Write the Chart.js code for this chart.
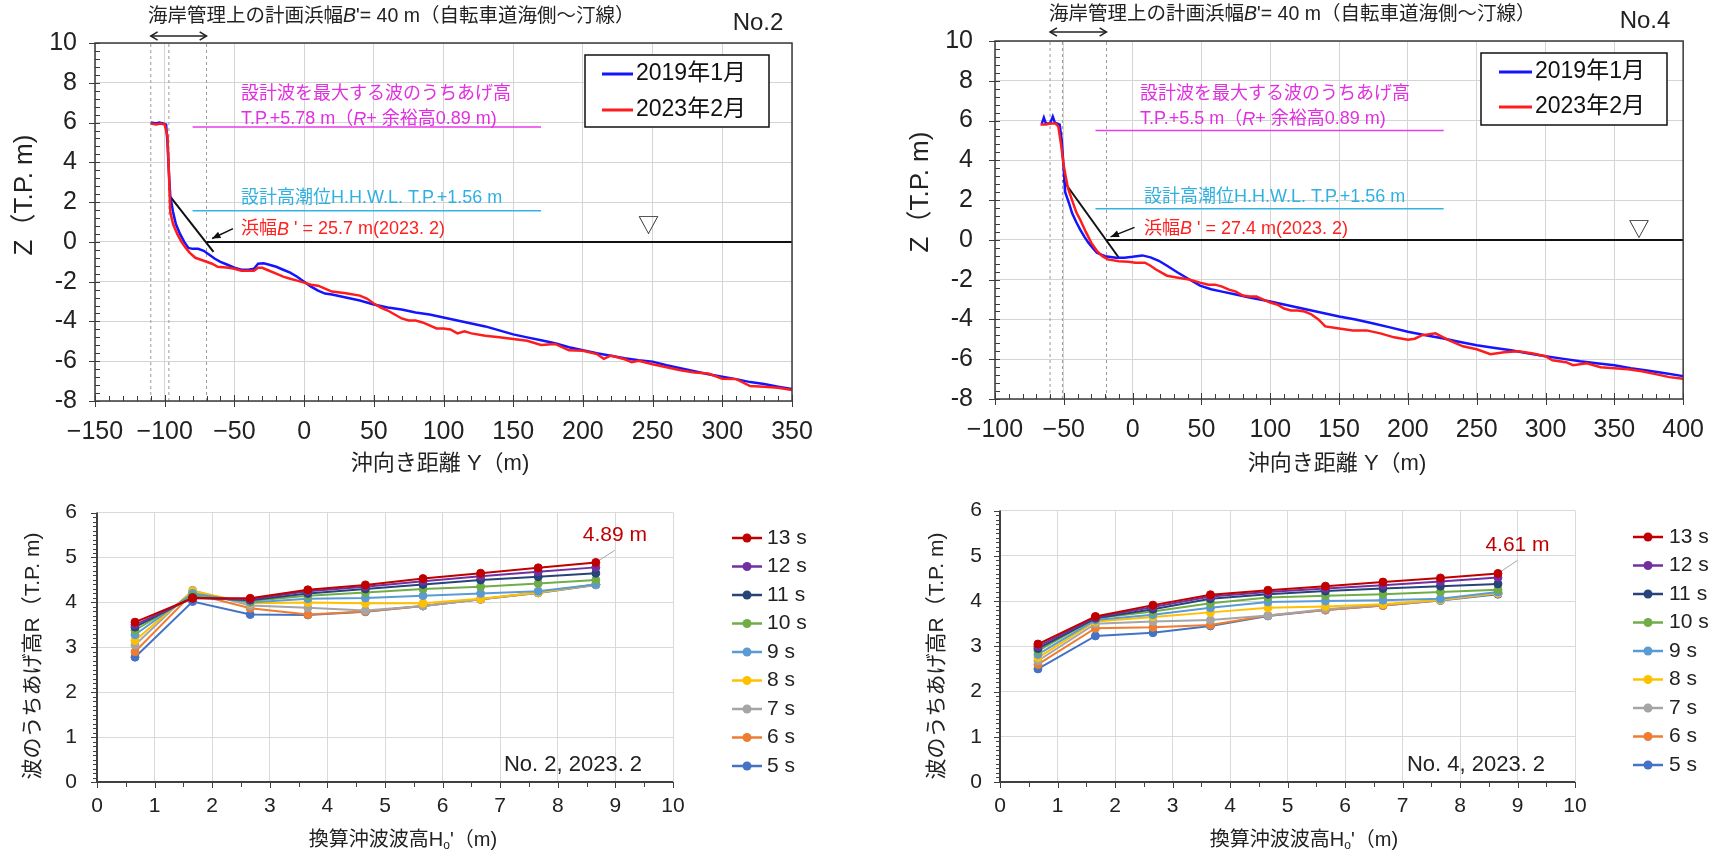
<!DOCTYPE html>
<html lang="ja">
<head>
<meta charset="UTF-8">
<title>No.2 / No.4 断面と波のうちあげ高</title>
<style>
    body {
        margin: 0;
        background: #fff;
        width: 1720px;
        height: 853px;
        position: relative;
        overflow: hidden;
    }
    canvas {
        position: absolute;
    }
</style>
<script src="https://cdn.jsdelivr.net/npm/chart.js"></script>
</head>
<body>
<canvas id="prof2" width="860" height="480" style="left:0;top:0"></canvas>
<canvas id="prof4" width="860" height="480" style="left:860px;top:0"></canvas>
<canvas id="run2" width="860" height="373" style="left:0;top:480px"></canvas>
<canvas id="run4" width="860" height="373" style="left:860px;top:480px"></canvas>
<script>
// ---- profile data: [offshore distance Y (m), elevation Z (T.P. m)] ----
const no2Prof2019 = [[-110,6.0],[-106,5.95],[-104,6.0],[-101,5.95],[-99,5.9],[-98,5.0],[-97,3.5],[-96,2.3],[-94,1.5],[-92,0.9],
    [-89,0.4],[-86,0.0],[-83,-0.3],[-80,-0.35],[-76,-0.35],[-72,-0.45],[-68,-0.65],[-64,-0.85],[-60,-1.0],[-55,-1.15],
    [-50,-1.3],[-45,-1.4],[-40,-1.4],[-36,-1.35],[-33,-1.1],[-29,-1.08],[-25,-1.15],[-20,-1.25],[-15,-1.4],[-10,-1.55],
    [-5,-1.75],[0,-2.0],[5,-2.25],[10,-2.45],[15,-2.6],[20,-2.65],[30,-2.8],[40,-2.95],[50,-3.15],[60,-3.3],
    [70,-3.4],[80,-3.55],[90,-3.65],[100,-3.8],[110,-3.95],[120,-4.1],[130,-4.25],[140,-4.45],[150,-4.65],[160,-4.8],
    [170,-4.95],[180,-5.1],[190,-5.3],[200,-5.45],[210,-5.6],[220,-5.72],[230,-5.85],[240,-5.95],[250,-6.02],[260,-6.2],
    [270,-6.35],[280,-6.5],[290,-6.65],[300,-6.78],[310,-6.9],[320,-7.05],[330,-7.15],[340,-7.28],[350,-7.4]];
const no2Prof2023 = [[-110,5.95],[-106,5.9],[-103,5.95],[-100,5.9],[-98,5.3],[-97,3.5],[-96,1.5],[-94,0.9],[-91,0.4],[-88,0.0],
    [-85,-0.3],[-82,-0.55],[-78,-0.8],[-74,-0.9],[-70,-1.0],[-66,-1.1],[-62,-1.25],[-58,-1.27],[-54,-1.3],[-50,-1.35],
    [-45,-1.45],[-40,-1.45],[-36,-1.45],[-33,-1.3],[-30,-1.3],[-25,-1.45],[-20,-1.6],[-15,-1.75],[-10,-1.85],[-5,-1.95],
    [0,-2.05],[5,-2.15],[10,-2.2],[15,-2.35],[20,-2.5],[30,-2.58],[40,-2.7],[45,-2.85],[50,-3.1],[55,-3.3],
    [60,-3.45],[65,-3.65],[70,-3.85],[75,-3.95],[80,-3.95],[85,-4.05],[90,-4.2],[95,-4.35],[100,-4.35],[105,-4.4],
    [110,-4.6],[115,-4.5],[120,-4.6],[130,-4.72],[140,-4.8],[150,-4.88],[160,-4.97],[170,-5.18],[180,-5.13],[190,-5.45],
    [200,-5.47],[210,-5.64],[215,-5.88],[220,-5.72],[230,-5.9],[235,-6.05],[240,-5.98],[250,-6.15],[260,-6.3],[270,-6.45],
    [280,-6.57],[290,-6.62],[300,-6.88],[310,-6.9],[320,-7.25],[330,-7.28],[340,-7.33],[350,-7.45]];
const no4Prof2019 = [[-66,5.85],[-64.5,6.15],[-63,5.85],[-60,5.85],[-58,6.2],[-56.5,5.9],[-53,5.8],[-51.5,5.0],[-50.5,4.0],[-49,2.4],
    [-46,1.8],[-44,1.35],[-41,0.9],[-38,0.5],[-35,0.15],[-32,-0.15],[-29,-0.4],[-26,-0.65],[-20,-0.82],[-12,-0.9],
    [-6,-0.9],[0,-0.85],[7,-0.78],[13,-0.88],[19,-1.05],[25,-1.3],[33,-1.65],[41,-1.98],[49,-2.3],[57,-2.48],
    [65,-2.6],[75,-2.75],[85,-2.9],[100,-3.1],[110,-3.25],[120,-3.4],[130,-3.55],[140,-3.7],[150,-3.85],[162,-4.0],
    [175,-4.2],[187,-4.4],[200,-4.62],[212,-4.78],[225,-4.95],[237,-5.12],[250,-5.3],[262,-5.42],[275,-5.55],[287,-5.7],
    [300,-5.85],[312,-5.97],[325,-6.1],[337,-6.2],[350,-6.3],[362,-6.45],[375,-6.58],[387,-6.7],[400,-6.85]];
const no4Prof2023 = [[-67,5.8],[-63,5.8],[-60,5.85],[-56,5.85],[-54,5.7],[-52,4.8],[-50,3.7],[-47,2.6],[-44,2.0],[-41,1.4],
    [-38,1.0],[-34,0.4],[-30,-0.15],[-26,-0.55],[-22,-0.82],[-18,-0.98],[-10,-1.07],[-3,-1.1],[2,-1.15],[9,-1.15],
    [13,-1.3],[17,-1.49],[21,-1.65],[25,-1.8],[33,-1.9],[41,-1.99],[49,-2.15],[55,-2.25],[60,-2.25],[65,-2.35],
    [70,-2.5],[75,-2.6],[80,-2.8],[85,-2.85],[90,-2.85],[95,-3.0],[100,-3.15],[105,-3.25],[110,-3.45],[115,-3.55],
    [120,-3.55],[125,-3.6],[130,-3.75],[135,-4.0],[140,-4.35],[150,-4.45],[160,-4.55],[170,-4.55],[180,-4.7],[190,-4.9],
    [200,-5.02],[205,-4.97],[210,-4.8],[220,-4.7],[230,-5.05],[240,-5.35],[250,-5.5],[260,-5.75],[270,-5.65],[280,-5.6],
    [290,-5.7],[300,-5.85],[305,-6.05],[315,-6.15],[320,-6.3],[330,-6.2],[340,-6.4],[350,-6.45],[360,-6.5],[370,-6.6],
    [380,-6.75],[390,-6.9],[400,-6.98]];

// design levels (run-up + margin, H.H.W.L.) and the span they are drawn over
const no2Levels = [5.78, 1.56];
const no4Levels = [5.5, 1.56];
const no2LevelSpan = [-80, 170];
const no4LevelSpan = [-27, 226];
// dashed guide positions and beach-width guide line
const no2Dashed = [-110, -97, -70];
const no4Dashed = [-60, -51, -19];
const no2Slope = [[-96.3, 2.3], [-65, -0.5]];
const no4Slope = [[-50.5, 3.0], [-10, -0.9]];
const no2ZeroFrom = -70;
const no4ZeroFrom = -19;

// ---- run-up data ----
const periods = ['13 s', '12 s', '11 s', '10 s', '9 s', '8 s', '7 s', '6 s', '5 s'];
const offshoreH = [0.66, 1.66, 2.66, 3.66, 4.66, 5.66, 6.66, 7.66, 8.66];
const runupNo2 = [
    [3.56, 4.09, 4.09, 4.28, 4.39, 4.53, 4.65, 4.77, 4.89],
    [3.50, 4.10, 4.07, 4.25, 4.35, 4.47, 4.58, 4.68, 4.78],
    [3.45, 4.11, 4.05, 4.20, 4.30, 4.40, 4.50, 4.57, 4.65],
    [3.38, 4.15, 4.03, 4.15, 4.22, 4.30, 4.35, 4.42, 4.50],
    [3.28, 4.20, 4.00, 4.08, 4.10, 4.15, 4.20, 4.25, 4.40],
    [3.15, 4.25, 3.98, 4.00, 3.98, 3.98, 4.08, 4.22, 4.40],
    [3.05, 4.27, 3.93, 3.88, 3.82, 3.92, 4.07, 4.22, 4.40],
    [2.90, 4.20, 3.87, 3.73, 3.80, 3.92, 4.07, 4.22, 4.40],
    [2.78, 4.02, 3.73, 3.72, 3.79, 3.92, 4.07, 4.21, 4.39]
];
const runupNo4 = [
    [3.05, 3.66, 3.91, 4.14, 4.24, 4.33, 4.42, 4.51, 4.61],
    [3.00, 3.64, 3.87, 4.10, 4.20, 4.28, 4.35, 4.43, 4.52],
    [2.95, 3.62, 3.82, 4.05, 4.15, 4.22, 4.28, 4.33, 4.38],
    [2.90, 3.62, 3.77, 3.95, 4.08, 4.12, 4.15, 4.20, 4.25],
    [2.82, 3.58, 3.70, 3.85, 3.98, 4.00, 4.02, 4.05, 4.20],
    [2.75, 3.55, 3.65, 3.75, 3.85, 3.88, 3.93, 4.03, 4.18],
    [2.68, 3.50, 3.55, 3.58, 3.68, 3.82, 3.92, 4.02, 4.17],
    [2.60, 3.40, 3.42, 3.47, 3.68, 3.80, 3.90, 4.02, 4.17],
    [2.50, 3.23, 3.30, 3.45, 3.67, 3.80, 3.90, 4.01, 4.15]
];
// where the leader of the max label ends (H, R)
const no2Leader = [8.99, 5.16];
const no4Leader = [9.0, 4.9];

const periodColors = ['#c00000', '#7030a0', '#264478', '#70ad47', '#5b9bd5', '#ffc000', '#a5a5a5', '#ed7d31', '#4472c4'];
const FONT = "'Liberation Sans', 'Noto Sans CJK JP', sans-serif";

// draw text made of parts: [text, style] where style 'i' = italic, 's' = subscript
function drawParts(ctx, x, y, parts, size, color, align) {
    ctx.save();
    ctx.fillStyle = color;
    ctx.textBaseline = 'middle';
    ctx.textAlign = 'left';
    const fontOf = st => (st === 'i' ? 'italic ' : '') + (st === 's' ? Math.round(size * 0.6) : size) + 'px ' + FONT;
    let w = 0;
    parts.forEach(p => { ctx.font = fontOf(p[1]); w += ctx.measureText(p[0]).width; });
    let cx = align === 'center' ? x - w / 2 : (align === 'right' ? x - w : x);
    parts.forEach(p => {
        ctx.font = fontOf(p[1]);
        ctx.fillText(p[0], cx, p[1] === 's' ? y + size * 0.3 : y);
        cx += ctx.measureText(p[0]).width;
    });
    ctx.restore();
}

function drawRotated(ctx, x, y, parts, size, color) {
    ctx.save();
    ctx.translate(x, y);
    ctx.rotate(-Math.PI / 2);
    drawParts(ctx, 0, 0, parts, size, color, 'center');
    ctx.restore();
}

function chevron(ctx, x, y, ang, len) {
    ctx.beginPath();
    ctx.moveTo(x + len * Math.cos(ang + 2.6), y + len * Math.sin(ang + 2.6));
    ctx.lineTo(x, y);
    ctx.lineTo(x + len * Math.cos(ang - 2.6), y + len * Math.sin(ang - 2.6));
    ctx.stroke();
}

// minor / major tick marks along left and bottom axes
function drawTicks(ctx, chart, t) {
    const { chartArea: a, scales: { x, y } } = chart;
    ctx.strokeStyle = t.color;
    ctx.lineWidth = 1;
    const ny = Math.round((y.max - y.min) / t.yMinor);
    for (let i = 0; i <= ny; i++) {
        const v = y.min + i * t.yMinor;
        const major = Math.abs(v / t.yMajor - Math.round(v / t.yMajor)) < 1e-6;
        const len = major ? t.yMaj : t.yMin;
        const py = Math.round(y.getPixelForValue(v)) + 0.5;
        ctx.beginPath(); ctx.moveTo(a.left - len[0], py); ctx.lineTo(a.left + len[1], py); ctx.stroke();
    }
    const nx = Math.round((x.max - x.min) / t.xMinor);
    for (let i = 0; i <= nx; i++) {
        const v = x.min + i * t.xMinor;
        const major = Math.abs(v / t.xMajor - Math.round(v / t.xMajor)) < 1e-6;
        const len = major ? t.xMaj : t.xMin;
        const px = Math.round(x.getPixelForValue(v)) + 0.5;
        ctx.beginPath(); ctx.moveTo(px, a.bottom + len[0]); ctx.lineTo(px, a.bottom - len[1]); ctx.stroke();
    }
}

const profileDeco = {
    id: 'profileDeco',
    afterDraw(chart, args, o) {
        const { ctx, chartArea: a, scales: { x, y } } = chart;
        ctx.save();
        ctx.strokeStyle = '#3a3a3a';
        ctx.lineWidth = 1.5;
        ctx.strokeRect(a.left, a.top, a.right - a.left, a.bottom - a.top);
        drawTicks(ctx, chart, { color: '#3a3a3a', yMinor: 0.4, yMajor: 2, yMaj: [6, 5], yMin: [0, 5],
            xMinor: 10, xMajor: 50, xMaj: [6, 6], xMin: [0, 5] });

        // header with double arrow over the planned beach width
        drawParts(ctx, o.header[0], o.header[1], [['海岸管理上の計画浜幅'], ['B', 'i'], ["'= 40 m（自転車道海側～汀線）"]], 19.5, '#222', 'left');
        drawParts(ctx, o.station[0], o.station[1], [[o.station[2]]], 24, '#222', 'center');
        const x1 = x.getPixelForValue(o.span[0]), x2 = x.getPixelForValue(o.span[1]);
        ctx.strokeStyle = '#222';
        ctx.lineWidth = 1.5;
        ctx.beginPath(); ctx.moveTo(x1, o.arrowY); ctx.lineTo(x2, o.arrowY); ctx.stroke();
        chevron(ctx, x1, o.arrowY, Math.PI, 8);
        chevron(ctx, x2, o.arrowY, 0, 8);

        // level notes
        const n = o.notes;
        drawParts(ctx, n.x1, n.y[0], [['設計波を最大する波のうちあげ高']], 18, '#e030e0', 'left');
        drawParts(ctx, n.x1, n.y[1], [['T.P.+' + o.levels[0] + ' m（'], ['R', 'i'], ['+ 余裕高0.89 m)']], 18, '#e030e0', 'left');
        drawParts(ctx, n.x2, n.y[2], [['設計高潮位H.H.W.L. T.P.+' + o.levels[1].toFixed(2) + ' m']], 18, '#2fb0e0', 'left');
        drawParts(ctx, n.x2, n.y[3], [['浜幅'], ['B', 'i'], [" ' = " + o.width + ' m(2023. 2)']], 18, '#ff2020', 'left');

        // pointer to the shoreline
        const tx = x.getPixelForValue(o.pointer[0]), ty = y.getPixelForValue(o.pointer[1]);
        const hx = x.getPixelForValue(o.pointer[2]), hy = y.getPixelForValue(o.pointer[3]);
        const ang = Math.atan2(hy - ty, hx - tx);
        ctx.strokeStyle = '#111';
        ctx.fillStyle = '#111';
        ctx.lineWidth = 1.5;
        ctx.beginPath(); ctx.moveTo(tx, ty); ctx.lineTo(hx, hy); ctx.stroke();
        ctx.beginPath();
        ctx.moveTo(hx, hy);
        ctx.lineTo(hx - 9 * Math.cos(ang - 0.4), hy - 9 * Math.sin(ang - 0.4));
        ctx.lineTo(hx - 9 * Math.cos(ang + 0.4), hy - 9 * Math.sin(ang + 0.4));
        ctx.closePath();
        ctx.fill();

        // water level mark
        drawParts(ctx, x.getPixelForValue(o.tri[0]), y.getPixelForValue(o.tri[1]), [['▽']], 21, '#222', 'center');

        // legend box
        const L = o.legend;
        ctx.fillStyle = '#fff';
        ctx.fillRect(L.box[0], L.box[1], L.box[2] - L.box[0], L.box[3] - L.box[1]);
        ctx.strokeStyle = '#111';
        ctx.lineWidth = 1.5;
        ctx.strokeRect(L.box[0], L.box[1], L.box[2] - L.box[0], L.box[3] - L.box[1]);
        [0, 1].forEach((di, k) => {
            const ds = chart.data.datasets[di];
            ctx.strokeStyle = ds.borderColor;
            ctx.lineWidth = 3;
            ctx.beginPath(); ctx.moveTo(L.line[0], L.rows[k]); ctx.lineTo(L.line[1], L.rows[k]); ctx.stroke();
            drawParts(ctx, L.textX, L.rows[k], [[ds.label]], 23, '#111', 'left');
        });

        // axis titles
        drawParts(ctx, o.xTitle[0], o.xTitle[1], [['沖向き距離 Y（m)']], 22, '#222', 'center');
        drawRotated(ctx, o.yTitle[0], o.yTitle[1], [['Z（T.P. m)']], 26, '#222');
        ctx.restore();
    }
};

const runupDeco = {
    id: 'runupDeco',
    afterDraw(chart, args, o) {
        const { ctx, chartArea: a, scales: { x, y } } = chart;
        ctx.save();
        ctx.strokeStyle = '#404040';
        ctx.lineWidth = 2;
        ctx.beginPath();
        ctx.moveTo(a.left, a.top); ctx.lineTo(a.left, a.bottom); ctx.lineTo(a.right, a.bottom);
        ctx.stroke();
        drawTicks(ctx, chart, { color: '#404040', yMinor: 0.1, yMajor: 1, yMaj: [6, 0], yMin: [4, 0],
            xMinor: 0.5, xMajor: 1, xMaj: [6, 0], xMin: [5, 0] });

        // max run-up label at the end of the leader line
        const top = chart.data.datasets[0].data;
        const maxR = Math.max(...top.map(p => p.y));
        drawParts(ctx, x.getPixelForValue(o.leader[0]), y.getPixelForValue(o.leader[1]) - 15,
            [[maxR.toFixed(2) + ' m']], 21, '#c00000', 'center');

        drawParts(ctx, o.tag[0], o.tag[1], [[o.tag[2]]], 22, '#222', 'center');

        // legend to the right
        const L = o.legend;
        periods.forEach((p, i) => {
            const ds = chart.data.datasets[i];
            const ry = L.y0 + i * L.dy;
            ctx.strokeStyle = ds.borderColor;
            ctx.lineWidth = 2.5;
            ctx.beginPath(); ctx.moveTo(L.x[0], ry); ctx.lineTo(L.x[1], ry); ctx.stroke();
            ctx.fillStyle = ds.borderColor;
            ctx.beginPath(); ctx.arc((L.x[0] + L.x[1]) / 2, ry, 4.5, 0, Math.PI * 2); ctx.fill();
            drawParts(ctx, L.textX, ry, [[ds.label]], 21, '#222', 'left');
        });

        drawParts(ctx, o.xTitle[0], o.xTitle[1], [['換算沖波波高H'], ['o', 's'], ["'（m)"]], 20, '#222', 'center');
        drawRotated(ctx, o.yTitle[0], o.yTitle[1], [['波のうちあげ高R（T.P. m)']], 21, '#222');
        ctx.restore();
    }
};

const toXY = pts => pts.map(p => ({ x: p[0], y: p[1] }));

function profileChart(id, c) {
    const datasets = [
        { label: '2019年1月', data: toXY(c.p2019), borderColor: '#1414ff', borderWidth: 2.5, order: 1 },
        { label: '2023年2月', data: toXY(c.p2023), borderColor: '#ff1c1c', borderWidth: 2.5, order: 0 },
        { data: c.span.map(v => ({ x: v, y: c.levels[0] })), borderColor: '#e83ce8', borderWidth: 1.5, order: 3 },
        { data: c.span.map(v => ({ x: v, y: c.levels[1] })), borderColor: '#35b4e4', borderWidth: 1.5, order: 3 },
        { data: toXY(c.slope), borderColor: '#111', borderWidth: 2, order: 2 },
        { data: [{ x: c.zeroFrom, y: 0 }, { x: c.xMax, y: 0 }], borderColor: '#111', borderWidth: 2, order: 2 }
    ];
    c.dashed.forEach(v => datasets.push({
        data: [{ x: v, y: -8 }, { x: v, y: 10 }], borderColor: '#9a9a9a', borderWidth: 1, borderDash: [3, 3], order: 4
    }));
    new Chart(document.getElementById(id), {
        type: 'line',
        data: { datasets },
        options: {
            responsive: false,
            animation: false,
            events: [],
            elements: { point: { radius: 0 }, line: { tension: 0, fill: false } },
            layout: { padding: { top: c.area.top, right: c.area.right, left: 0, bottom: 0 } },
            plugins: { legend: { display: false }, tooltip: { enabled: false }, profileDeco: c.deco },
            scales: {
                x: {
                    type: 'linear', min: c.xMin, max: c.xMax,
                    afterFit: s => { s.height = c.area.xh; },
                    grid: { color: '#d4d4d4', drawTicks: false },
                    border: { display: false },
                    ticks: {
                        stepSize: 50, padding: 16, autoSkip: false, maxRotation: 0, color: '#222',
                        font: { size: 25, family: FONT },
                        callback: v => v < 0 ? '\u2212' + (-v) : String(v)
                    }
                },
                y: {
                    min: -8, max: 10,
                    afterFit: s => { s.width = c.area.yw; },
                    grid: { color: '#d4d4d4', drawTicks: false },
                    border: { display: false },
                    ticks: { stepSize: 2, padding: c.area.ypad, color: '#222', font: { size: 25, family: FONT } }
                }
            }
        },
        plugins: [profileDeco]
    });
}

function runupChart(id, c) {
    const datasets = c.rows.map((vals, i) => ({
        label: periods[i],
        data: offshoreH.map((h, j) => ({ x: h, y: vals[j] })),
        borderColor: periodColors[i],
        backgroundColor: periodColors[i],
        borderWidth: 2,
        pointRadius: 4,
        pointBorderWidth: 1
    }));
    datasets.push({
        data: [{ x: offshoreH[offshoreH.length - 1], y: c.rows[0][c.rows[0].length - 1] }, { x: c.leader[0], y: c.leader[1] }],
        borderColor: '#a6a6a6', borderWidth: 1, pointRadius: 0
    });
    new Chart(document.getElementById(id), {
        type: 'line',
        data: { datasets },
        options: {
            responsive: false,
            animation: false,
            events: [],
            elements: { line: { tension: 0, fill: false } },
            layout: { padding: { top: c.area.top, right: c.area.right, left: 0, bottom: 0 } },
            plugins: { legend: { display: false }, tooltip: { enabled: false }, runupDeco: c.deco },
            scales: {
                x: {
                    type: 'linear', min: 0, max: 10,
                    afterFit: s => { s.height = c.area.xh; },
                    grid: { color: '#d9d9d9', drawTicks: false },
                    border: { display: false },
                    ticks: { stepSize: 1, padding: 12, autoSkip: false, maxRotation: 0, color: '#222', font: { size: 21, family: FONT } }
                },
                y: {
                    min: 0, max: 6,
                    afterFit: s => { s.width = c.area.yw; },
                    grid: { color: '#d9d9d9', drawTicks: false },
                    border: { display: false },
                    ticks: { stepSize: 1, padding: c.area.ypad, color: '#222', font: { size: 21, family: FONT } }
                }
            }
        },
        plugins: [runupDeco]
    });
}

profileChart('prof2', {
    p2019: no2Prof2019, p2023: no2Prof2023, levels: no2Levels, span: no2LevelSpan,
    slope: no2Slope, zeroFrom: no2ZeroFrom, dashed: no2Dashed, xMin: -150, xMax: 350,
    area: { top: 43, right: 68, xh: 79, yw: 95, ypad: 18 },
    deco: {
        header: [148, 16.5], station: [758, 23, 'No.2'], span: [no2Dashed[0], no2Dashed[2]], arrowY: 36,
        levels: no2Levels, width: 25.7,
        notes: { x1: 241, x2: 241, y: [94.5, 119.5, 198, 229.5] },
        pointer: [-51, 0.67, -66, 0.17], tri: [247, 0.8],
        legend: { box: [585, 55, 769, 127], rows: [74, 110], line: [602, 633], textX: 636 },
        xTitle: [440, 464], yTitle: [25, 195]
    }
});

profileChart('prof4', {
    p2019: no4Prof2019, p2023: no4Prof2023, levels: no4Levels, span: no4LevelSpan,
    slope: no4Slope, zeroFrom: no4ZeroFrom, dashed: no4Dashed, xMin: -100, xMax: 400,
    area: { top: 41, right: 31, xh: 81, yw: 135, ypad: 22 },
    deco: {
        header: [189, 15], station: [785, 21, 'No.4'], span: [no4Dashed[0], no4Dashed[2]], arrowY: 32,
        levels: no4Levels, width: 27.4,
        notes: { x1: 280, x2: 284, y: [94, 119.5, 197, 229] },
        pointer: [1.4, 0.63, -16, 0.15], tri: [368, 0.5],
        legend: { box: [621, 53, 807, 125], rows: [72, 107], line: [639, 672], textX: 675 },
        xTitle: [477, 464], yTitle: [61, 192]
    }
});

runupChart('run2', {
    rows: runupNo2, leader: no2Leader,
    area: { top: 23, right: 187, xh: 71, yw: 97, ypad: 20 },
    deco: {
        leader: no2Leader, tag: [573, 284.5, 'No. 2, 2023. 2'],
        legend: { x: [732, 762], textX: 767, y0: 58, dy: 28.5 },
        xTitle: [403, 360], yTitle: [33, 176]
    }
});

runupChart('run4', {
    rows: runupNo4, leader: no4Leader,
    area: { top: 23, right: 145, xh: 71, yw: 140, ypad: 18 },
    deco: {
        leader: no4Leader, tag: [616, 284.5, 'No. 4, 2023. 2'],
        legend: { x: [773, 803], textX: 809, y0: 57, dy: 28.5 },
        xTitle: [444, 360], yTitle: [77, 176]
    }
});
</script>
</body>
</html>
